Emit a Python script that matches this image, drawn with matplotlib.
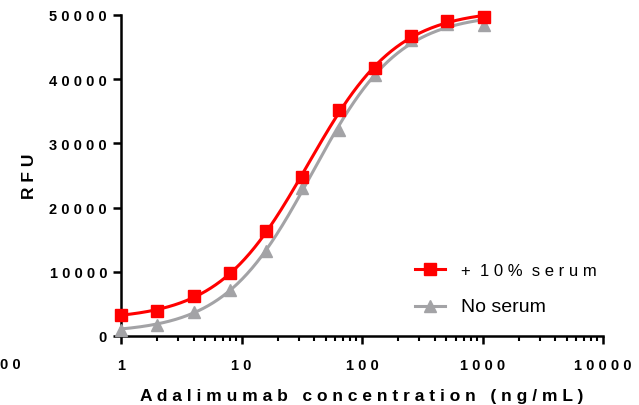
import matplotlib
matplotlib.use("Agg")
import matplotlib.pyplot as plt
import numpy as np
from matplotlib.lines import Line2D

# concentrations (ng/mL), 2-fold dilution series
conc = [1, 2, 4, 8, 16, 32, 64, 128, 256, 512, 1024]
rfu_serum = [3200, 3900, 6200, 9800, 16300, 24800, 35200, 41700, 46700, 49000, 49650]
rfu_no_serum = [1000, 1750, 3800, 7100, 13300, 23050, 32100, 40650, 46150, 48600, 48450]

xticks = [1, 10, 100, 1000, 10000]
yticks = [0, 10000, 20000, 30000, 40000, 50000]

RED = "#ff0000"
GREY = "#a3a3a6"


def spaced(s, word_gap="   "):
    return word_gap.join(" ".join(w) for w in s.split(" "))


def fit_4pl(x, y):
    # grid over EC50 and hill slope, bottom/top by linear least squares
    x = np.asarray(x, float)
    y = np.asarray(y, float)
    le = np.arange(0.5, 3.0, 0.005)[:, None, None]
    hs = np.arange(0.4, 2.5, 0.005)[None, :, None]
    s = 1.0 / (1.0 + 10 ** ((le - np.log10(x)[None, None, :]) * hs))
    a, b = 1 - s, s
    saa, sab, sbb = (a * a).sum(-1), (a * b).sum(-1), (b * b).sum(-1)
    say, sby = (a * y).sum(-1), (b * y).sum(-1)
    det = saa * sbb - sab ** 2
    bot = (sbb * say - sab * sby) / det
    top = (saa * sby - sab * say) / det
    res = ((bot[..., None] * a + top[..., None] * b - y) ** 2).sum(-1)
    i, j = np.unravel_index(np.argmin(res), res.shape)
    p = (bot[i, j], top[i, j], le[i, 0, 0], hs[0, j, 0])

    def f(xx):
        xx = np.asarray(xx, float)
        return p[0] + (p[1] - p[0]) / (1 + 10 ** ((p[2] - np.log10(xx)) * p[3]))
    return f


def main() -> None:
    plt.rcParams["font.family"] = ["Liberation Sans", "DejaVu Sans"]
    fig = plt.figure(figsize=(6.39, 4.06), dpi=100)
    ax = fig.add_axes([121 / 639, 1 - 337 / 406, (603 - 121) / 639, (337 - 16) / 406])

    xs = np.logspace(0, np.log10(conc[-1]), 300)
    for y, col, mk in [(rfu_no_serum, GREY, "^"), (rfu_serum, RED, "s")]:
        f = fit_4pl(conc, y)
        ax.plot(xs, f(xs), color=col, lw=2.2, clip_on=False, zorder=3)
        ax.plot(conc, y, ls="none", marker=mk, ms=9, color=col, mec=col,
                clip_on=False, zorder=4)

    ax.set_xscale("log")
    ax.set_xlim(1, 10000)
    ax.set_ylim(0, 50000)
    ax.set_xticks(xticks)
    ax.set_xticklabels([spaced(str(t)) for t in xticks])
    ax.set_yticks(yticks)
    ax.set_yticklabels([spaced(str(t)) for t in yticks])
    ax.xaxis.set_minor_locator(matplotlib.ticker.LogLocator(base=10, subs=np.arange(2, 10)))
    ax.xaxis.set_minor_formatter(matplotlib.ticker.NullFormatter())

    for side in ("top", "right"):
        ax.spines[side].set_visible(False)
    for side in ("left", "bottom"):
        ax.spines[side].set_linewidth(1.8)
    ax.spines["left"].set_bounds(0, 50000)
    ax.tick_params(which="major", length=6, width=1.8, direction="out",
                   labelsize=10.5)
    ax.tick_params(axis="y", pad=4)
    ax.tick_params(axis="x", which="major", pad=10)
    ax.tick_params(which="minor", length=3.5, width=1.5, direction="out")
    for lab in ax.get_xticklabels() + ax.get_yticklabels():
        lab.set_fontweight("bold")

    ax.set_xlabel(spaced("Adalimumab concentration (ng/mL)"), fontsize=12.5,
                  fontweight="bold", labelpad=11)
    ax.set_ylabel(spaced("RFU"), fontsize=12.5, fontweight="bold", labelpad=9)

    # leftover tick label cut at the left edge
    fig.text(0, 1 - 365 / 406, spaced("00"), fontsize=10.5, fontweight="bold",
             ha="left", va="center")

    handles = [
        Line2D([], [], color=RED, lw=2.2, marker="s", ms=9),
        Line2D([], [], color=GREY, lw=2.2, marker="^", ms=9),
    ]
    leg = ax.legend(handles, [spaced("+ 10% serum", "  "), "No serum"], frameon=False,
                    loc="upper left", bbox_to_anchor=(408 / 639, 1 - 257 / 406),
                    bbox_transform=fig.transFigure, fontsize=12, handlelength=1.8,
                    handletextpad=1.0, labelspacing=1.25, borderaxespad=0)
    leg.get_texts()[1].set_fontsize(14)

    fig.savefig("out.png", dpi=100)


if __name__ == "__main__":
    main()
